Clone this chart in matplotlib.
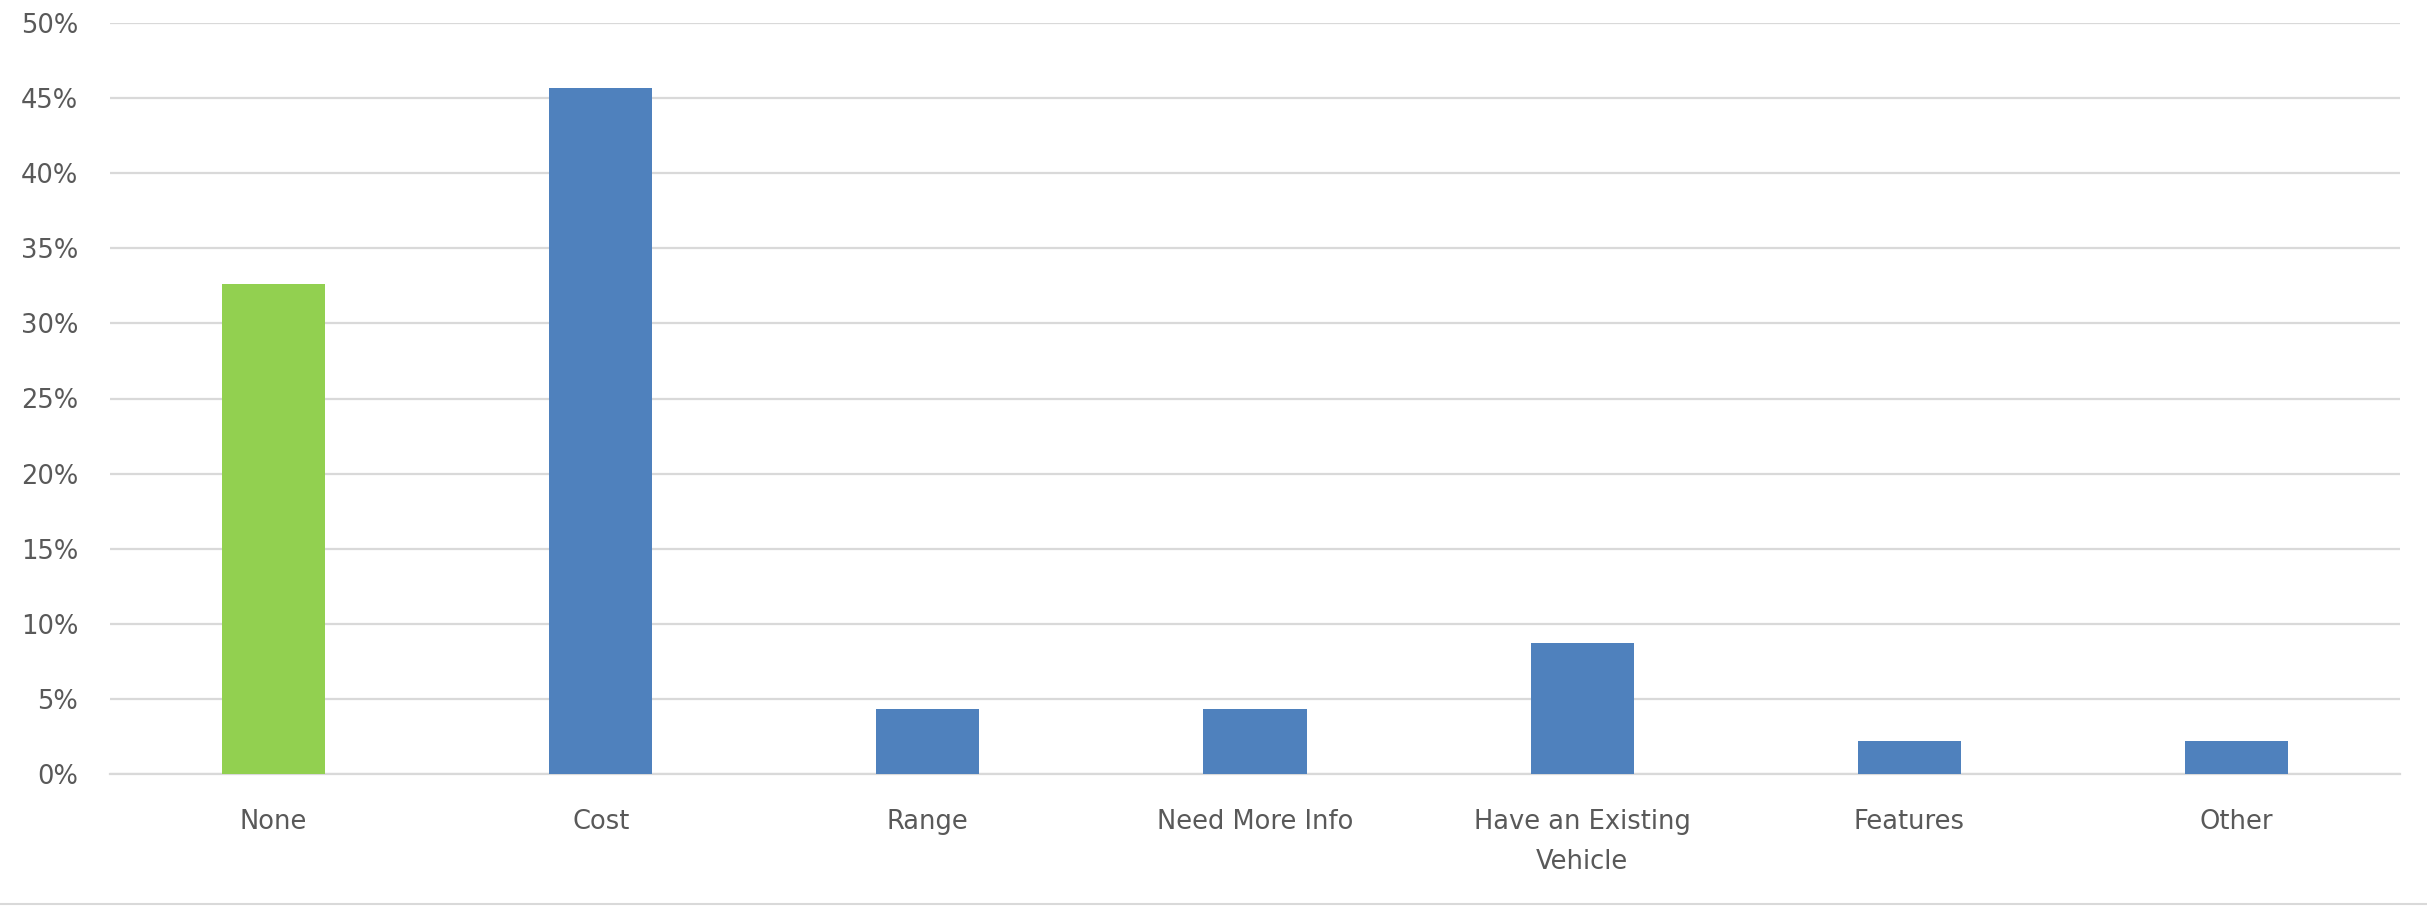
import matplotlib
matplotlib.use("Agg")
import matplotlib.pyplot as plt
from matplotlib.ticker import FuncFormatter, MultipleLocator
from matplotlib.lines import Line2D

categories = ["None", "Cost", "Range", "Need More Info", "Have an Existing\nVehicle", "Features", "Other"]
values = [32.6, 45.7, 4.3, 4.3, 8.7, 2.2, 2.2]
bar_colors = ["#92D050", "#4F81BD", "#4F81BD", "#4F81BD", "#4F81BD", "#4F81BD", "#4F81BD"]

plt.rcParams['font.family'] = ['DejaVu Sans']

W, H = 2427, 907
fig = plt.figure(figsize=(W / 100, H / 100), dpi=100)
left, right, top, bottom = 110, 2400, 23, 774
ax = fig.add_axes([left / W, 1 - bottom / H, (right - left) / W, (bottom - top) / H])

x = list(range(len(categories)))
ax.bar(x, values, width=0.315, color=bar_colors, zorder=3)

ax.set_xlim(-0.5, len(categories) - 0.5)
ax.set_ylim(0, 50)
ax.yaxis.set_major_locator(MultipleLocator(5))
ax.yaxis.set_major_formatter(FuncFormatter(lambda v, p: f"{int(round(v))}%"))
ax.grid(axis='y', color='#D9D9D9', linewidth=1.6, zorder=0)
ax.set_axisbelow(True)
for s in ['top', 'right', 'left']:
    ax.spines[s].set_visible(False)
ax.spines['bottom'].set_color('#D9D9D9')
ax.spines['bottom'].set_linewidth(1.6)

ax.set_xticks(x)
ax.set_xticklabels(categories, linespacing=1.7)
ax.tick_params(axis='both', length=0, colors='#595959', labelsize=18.5)
ax.tick_params(axis='y', pad=23)
ax.tick_params(axis='x', pad=25)

fig.add_artist(Line2D([0, 1], [0.003, 0.003], color='#D9D9D9', linewidth=1.5, transform=fig.transFigure))

fig.savefig("out.png", dpi=100, facecolor='white')
